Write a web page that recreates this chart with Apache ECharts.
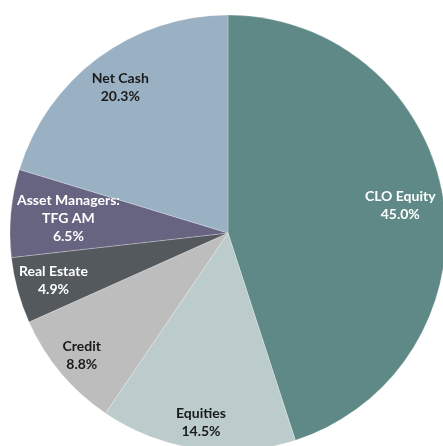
<!DOCTYPE html>
<html>
<head>
<meta charset="utf-8">
<script src="https://cdn.jsdelivr.net/npm/echarts@6/dist/echarts.min.js"></script>
<style>
  html, body { margin: 0; padding: 0; background: #fff; }
  #main { width: 443px; height: 446px; }
</style>
</head>
<body>
<div id="main"></div>
<script>
// portfolio split, clockwise from 12 o'clock
const categories = ["CLO Equity", "Equities", "Credit", "Real Estate", "Asset Managers:\nTFG AM", "Net Cash"];
const shares = [45.0, 14.5, 8.8, 4.9, 6.5, 20.3];

const sliceColors = ["#5e8986", "#bccbcb", "#bdbdbd", "#54595d", "#666480", "#9ab0c3"];
const textColors = ["#ffffff", "#1a1a1a", "#1a1a1a", "#ffffff", "#ffffff", "#1a1a1a"];
// how far out (fraction of radius) each label sits
const labelRadius = [0.80, 0.88, 0.875, 0.83, 0.735, 0.83];

const cx = 228, cy = 233, R = 218;
const total = shares.reduce((a, b) => a + b, 0);

let chart = echarts.init(document.getElementById("main"));

let data = categories.map((name, i) => ({
  name: name,
  value: shares[i],
  itemStyle: { color: sliceColors[i] },
  label: { color: textColors[i] }
}));

let option = {
  animation: false,
  series: [{
    type: "pie",
    center: [cx, cy],
    radius: [0, R],
    startAngle: 90,
    clockwise: true,
    avoidLabelOverlap: false,
    emphasis: { disabled: true },
    itemStyle: { borderColor: "rgba(255,255,255,0.5)", borderWidth: 0.5 },
    label: {
      show: true,
      position: "inside",
      fontFamily: "Lato",
      fontWeight: "bold",
      fontSize: 14,
      lineHeight: 18,
      align: "center",
      formatter: p => p.name + "\n" + p.value.toFixed(1) + "%"
    },
    labelLine: { show: false },
    labelLayout: function (params) {
      const i = params.dataIndex;
      let before = 0;
      for (let k = 0; k < i; k++) before += shares[k];
      const mid = (before + shares[i] / 2) / total * Math.PI * 2;
      const r = R * labelRadius[i];
      return {
        x: cx + r * Math.sin(mid),
        y: cy - r * Math.cos(mid),
        align: "center",
        verticalAlign: "middle"
      };
    },
    data: data
  }]
};

option && chart.setOption(option);
</script>
</body>
</html>
